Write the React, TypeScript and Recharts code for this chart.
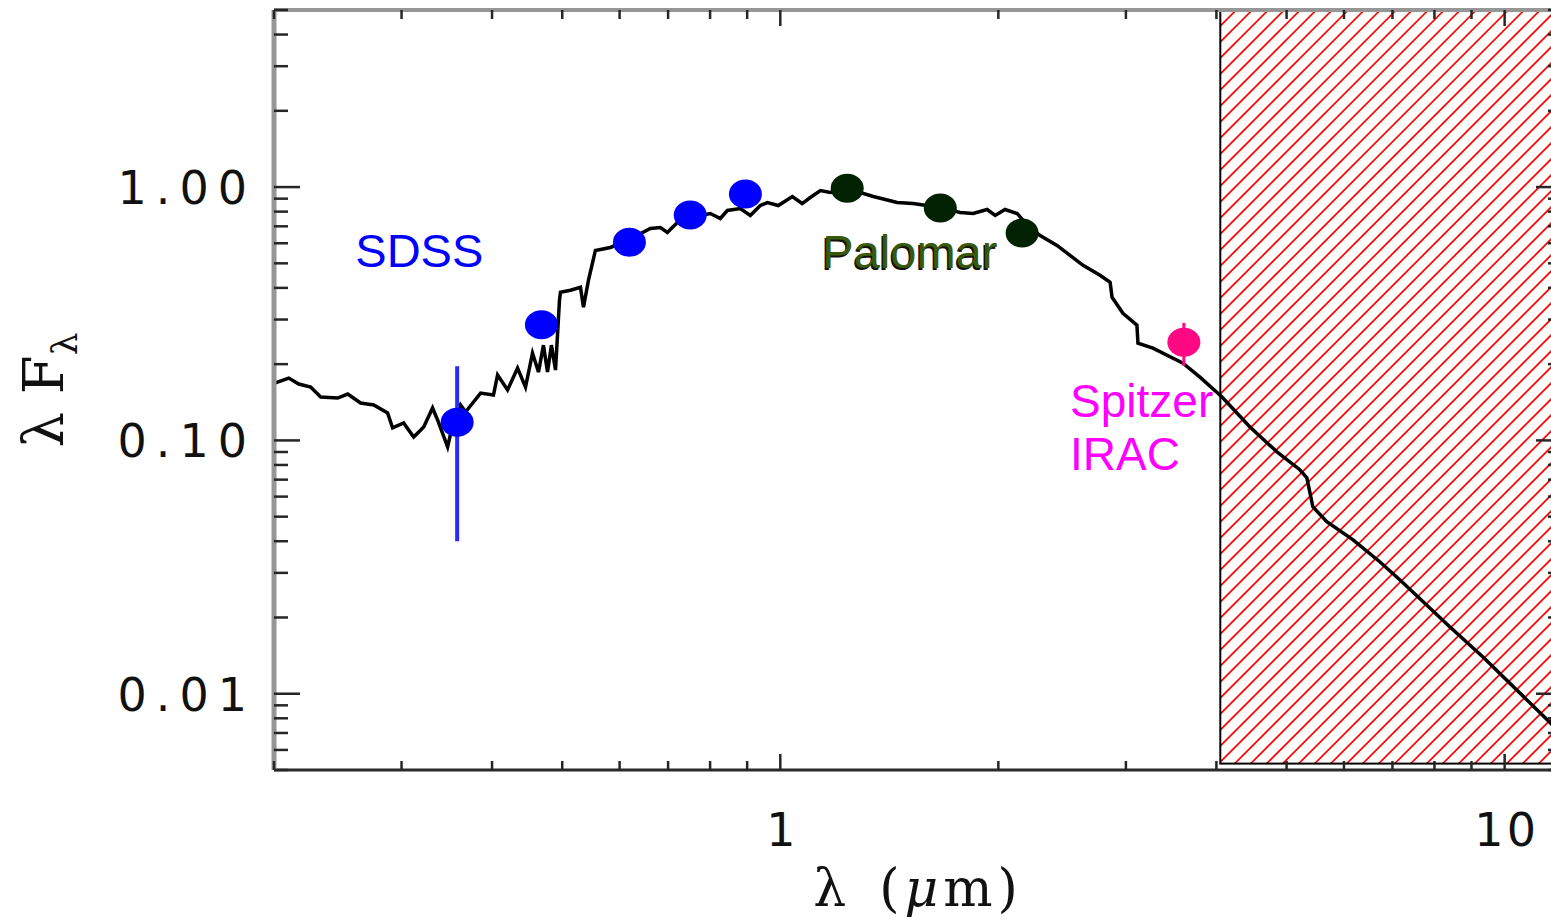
import React from "react";
import {
  ComposedChart,
  Line,
  Scatter,
  XAxis,
  YAxis,
  ErrorBar,
  ReferenceArea,
  ReferenceDot,
} from "recharts";

// model spectrum (wavelength in micron, lambda*F_lambda normalised)
const specWave = [
  0.2, 0.2096, 0.2164, 0.2247, 0.232, 0.2449, 0.2528, 0.2634, 0.2746, 0.287,
  0.2916, 0.302, 0.3118, 0.3219, 0.3311, 0.3364, 0.3473, 0.3529, 0.3619, 0.3677,
  0.3857, 0.4018, 0.4071, 0.4202, 0.4338, 0.4449, 0.4549, 0.4636, 0.471, 0.4771,
  0.4831, 0.4894, 0.4956, 0.4972, 0.5133, 0.5298, 0.5349, 0.5434, 0.5556, 0.5827,
  0.6151, 0.6616, 0.683, 0.6984, 0.721, 0.7513, 0.8005, 0.8264, 0.845, 0.8805,
  0.9091, 0.9385, 0.9596, 0.9937, 1.039, 1.072, 1.1, 1.136, 1.172, 1.237,
  1.344, 1.45, 1.525, 1.663, 1.771, 1.846, 1.93, 1.98, 2.043, 2.123,
  2.212, 2.284, 2.41, 2.618, 2.763, 2.853, 2.871, 2.972, 3.107, 3.117,
  3.269, 3.597, 3.796, 4.072, 4.45, 4.849, 5.215, 5.333, 5.435, 5.681,
  6.17, 6.723, 7.165, 8.398, 9.326, 11.43, 12.0,
];
const specFlux = [
  0.168, 0.1762, 0.1669, 0.1624, 0.1483, 0.147, 0.1524, 0.1405, 0.138, 0.1283,
  0.112, 0.1172, 0.1032, 0.113, 0.1343, 0.1204, 0.0943, 0.1151, 0.138, 0.1295,
  0.1538, 0.151, 0.1811, 0.1581, 0.1929, 0.1624, 0.2211, 0.1861, 0.2377, 0.1861,
  0.2377, 0.1895, 0.3573, 0.3843, 0.3914, 0.4021, 0.3355, 0.4284, 0.5623, 0.5775,
  0.616, 0.6865, 0.6928, 0.6619, 0.7249, 0.7585, 0.7866, 0.7516, 0.8083, 0.8231,
  0.7724, 0.8456, 0.8689, 0.8456, 0.9176, 0.861, 0.9092, 0.9687, 0.9512, 0.9865,
  0.9176, 0.8689, 0.861, 0.8305, 0.7937, 0.7866, 0.8156, 0.7724, 0.8156, 0.7866,
  0.6865, 0.6442, 0.5884, 0.4909, 0.4483, 0.4207, 0.3672, 0.3177, 0.2849, 0.242,
  0.2312, 0.2019, 0.1778, 0.1483, 0.113, 0.0901, 0.0766, 0.0712, 0.0547, 0.0478,
  0.0406, 0.0332, 0.0282, 0.0184, 0.014, 0.00793, 0.0069,
];

// photometry
const sdssWave = [0.358, 0.468, 0.619, 0.751, 0.895];
const sdssFlux = [0.118, 0.286, 0.605, 0.776, 0.938];
const sdssErr = [0.078, 0, 0, 0, 0];

const palomarWave = [1.237, 1.663, 2.157];
const palomarFlux = [0.99, 0.827, 0.659];

const iracWave = [3.607];
const iracFlux = [0.244];
const iracErr = [0.047];

// axes
const xTicks = [
  0.2, 0.3, 0.4, 0.5, 0.6, 0.7, 0.8, 0.9, 1, 2, 3, 4, 5, 6, 7, 8, 9, 10,
];
const yTicks = [
  0.005, 0.006, 0.007, 0.008, 0.009, 0.01, 0.02, 0.03, 0.04, 0.05, 0.06, 0.07,
  0.08, 0.09, 0.1, 0.2, 0.3, 0.4, 0.5, 0.6, 0.7, 0.8, 0.9, 1, 2, 3, 4, 5,
];
const xTickLabels: Record<string, string> = { "1": "1", "10": "10" };
const yTickLabels: Record<string, string> = {
  "0.01": "0.01",
  "0.1": "0.10",
  "1": "1.00",
};

// region beyond reliable coverage
const hatchFrom = 4.05;

const spectrum = specWave.map((w, i) => ({ w, f: specFlux[i] }));
const sdss = sdssWave.map((w, i) => ({ w, f: sdssFlux[i], e: sdssErr[i] }));
const palomar = palomarWave.map((w, i) => ({ w, f: palomarFlux[i] }));
const irac = iracWave.map((w, i) => ({ w, f: iracFlux[i], e: iracErr[i] }));

const TICK = "#262626";
const NUM_FONT = "'DejaVu Sans', sans-serif";
const TITLE_FONT = "'DejaVu Serif', serif";

const BottomTick = ({ x, y, payload }: any) => {
  const lbl = xTickLabels[String(payload.value)];
  return (
    <g>
      <line x1={x} x2={x} y1={y} y2={y - (lbl ? 16 : 9)} stroke={TICK} strokeWidth={2.5} />
      {lbl && (
        <text x={x + 2} y={y + 76} textAnchor="middle" fontFamily={NUM_FONT}
          fontSize={46} letterSpacing={3} fill="#111">
          {lbl}
        </text>
      )}
    </g>
  );
};

const TopTick = ({ x, y, payload }: any) => {
  const major = !!xTickLabels[String(payload.value)];
  return <line x1={x} x2={x} y1={y} y2={y + (major ? 16 : 9)} stroke={TICK} strokeWidth={2.5} />;
};

const LeftTick = ({ x, y, payload }: any) => {
  const lbl = yTickLabels[String(payload.value)];
  return (
    <g>
      <line x1={x} x2={x + (lbl ? 26 : 14)} y1={y} y2={y} stroke={TICK} strokeWidth={2.5} />
      {lbl && (
        <text x={x - 18} y={y + 17} textAnchor="end" fontFamily={NUM_FONT}
          fontSize={46} letterSpacing={9} fill="#111">
          {lbl}
        </text>
      )}
    </g>
  );
};

const RightTick = ({ x, y, payload }: any) => {
  const major = !!yTickLabels[String(payload.value)];
  return <line x1={x} x2={x - (major ? 26 : 14)} y1={y} y2={y} stroke={TICK} strokeWidth={2.5} />;
};

const XTitle = ({ viewBox }: any) => {
  const cx = viewBox ? viewBox.x + viewBox.width / 2 : 918;
  const by = viewBox ? viewBox.y + 136 : 906;
  return (
    <text x={cx} y={by} textAnchor="middle" fontFamily={TITLE_FONT} fontSize={52}
      letterSpacing={5} fill="#111">
      λ<tspan dx={28}>(</tspan>
      <tspan fontStyle="italic">μ</tspan>m)
    </text>
  );
};

const YTitle = ({ viewBox }: any) => {
  const cy = viewBox ? viewBox.y + viewBox.height / 2 : 390;
  return (
    <text transform={`translate(63, ${cy}) rotate(-90)`} textAnchor="middle"
      fontFamily={TITLE_FONT} fontSize={56} fill="#111">
      λ F<tspan fontSize={36} dy={14}>λ</tspan>
    </text>
  );
};

// hatched box: diagonal red lines clipped to the area rectangle
const HATCH_STEP = 16;
const HatchBox = ({ x, y, width, height }: any) => {
  const n = Math.ceil((width + height) / HATCH_STEP) + 1;
  const lines = [];
  for (let k = 0; k < n; k++) {
    const x0 = x + k * HATCH_STEP - height;
    lines.push(
      <line key={k} x1={x0} y1={y + height} x2={x0 + height} y2={y}
        stroke="#ff0000" strokeWidth={1.7} />
    );
  }
  return (
    <g>
      <defs>
        <clipPath id="hatchClip">
          <rect x={x} y={y} width={width} height={height} />
        </clipPath>
      </defs>
      <g clipPath="url(#hatchClip)">{lines}</g>
      <rect x={x} y={y} width={width} height={height} fill="none" stroke="#000" strokeWidth={2} />
    </g>
  );
};

const dotShape = (fill: string) => (p: any) =>
  <ellipse cx={p.cx} cy={p.cy} rx={16.5} ry={14.5} fill={fill} />;

export default function App() {
  return (
    <div style={{ position: "absolute", left: 0, top: 0, width: 1551, height: 924,
      overflow: "hidden", background: "#fff" }}>
      <ComposedChart width={1600} height={924} margin={{ top: 0, right: 0, bottom: 0, left: 0 }}>
        <XAxis dataKey="w" type="number" scale="log" domain={[0.2, 12]} allowDataOverflow
          ticks={xTicks} interval={0} tickSize={0} tickMargin={0} tick={BottomTick}
          height={154} axisLine={{ stroke: "#2b2b2b", strokeWidth: 3 }}
          label={<XTitle />} />
        <XAxis xAxisId="top" orientation="top" dataKey="w" type="number" scale="log"
          domain={[0.2, 12]} allowDataOverflow ticks={xTicks} interval={0} tickSize={0}
          tickMargin={0} tick={TopTick} height={10}
          axisLine={{ stroke: "#969696", strokeWidth: 4 }} />
        <YAxis dataKey="f" type="number" scale="log" domain={[0.005, 5]} allowDataOverflow
          ticks={yTicks} interval={0} tickSize={0} tickMargin={0} tick={LeftTick}
          width={274} axisLine={{ stroke: "#969696", strokeWidth: 5 }}
          label={<YTitle />} />
        <YAxis yAxisId="right" orientation="right" dataKey="f" type="number" scale="log"
          domain={[0.005, 5]} allowDataOverflow ticks={yTicks} interval={0} tickSize={0}
          tickMargin={0} tick={RightTick} width={38}
          axisLine={{ stroke: "#969696", strokeWidth: 4 }} />

        <ReferenceArea x1={hatchFrom} x2={12} y1={0.0053} y2={5} shape={HatchBox} />

        <Line data={spectrum} dataKey="f" type="linear" stroke="#000" strokeWidth={3.5}
          dot={false} activeDot={false} isAnimationActive={false} />

        <Scatter data={sdss} dataKey="f" shape={dotShape("#0000ff")} isAnimationActive={false}>
          <ErrorBar dataKey="e" direction="y" width={0} stroke="#2a2aff" strokeWidth={4} />
        </Scatter>
        <Scatter data={palomar} dataKey="f" shape={dotShape("#012201")} isAnimationActive={false} />
        <Scatter data={irac} dataKey="f" shape={dotShape("#ff0884")} isAnimationActive={false}>
          <ErrorBar dataKey="e" direction="y" width={0} stroke="#ff0884" strokeWidth={3} />
        </Scatter>

        <ReferenceDot x={0.259} y={0.482} r={0} shape={(p: any) => (
          <text x={p.cx} y={p.cy} fontFamily="'Liberation Sans', Arial, sans-serif"
            fontSize={47} fill="#0000ff">SDSS</text>
        )} />
        <ReferenceDot x={1.143} y={0.478} r={0} shape={(p: any) => (
          <g fontFamily="'Liberation Sans', Arial, sans-serif" fontSize={47}>
            <text x={p.cx - 1.5} y={p.cy + 1.5} fill="#111">Palomar</text>
            <text x={p.cx} y={p.cy} fill="#37580d">Palomar</text>
          </g>
        )} />
        <ReferenceDot x={2.512} y={0.124} r={0} shape={(p: any) => (
          <text x={p.cx} y={p.cy} fontFamily="'Liberation Sans', Arial, sans-serif"
            fontSize={46} fill="#ff00ff">
            Spitzer
            <tspan x={p.cx} dy={53}>IRAC</tspan>
          </text>
        )} />
      </ComposedChart>
    </div>
  );
}
